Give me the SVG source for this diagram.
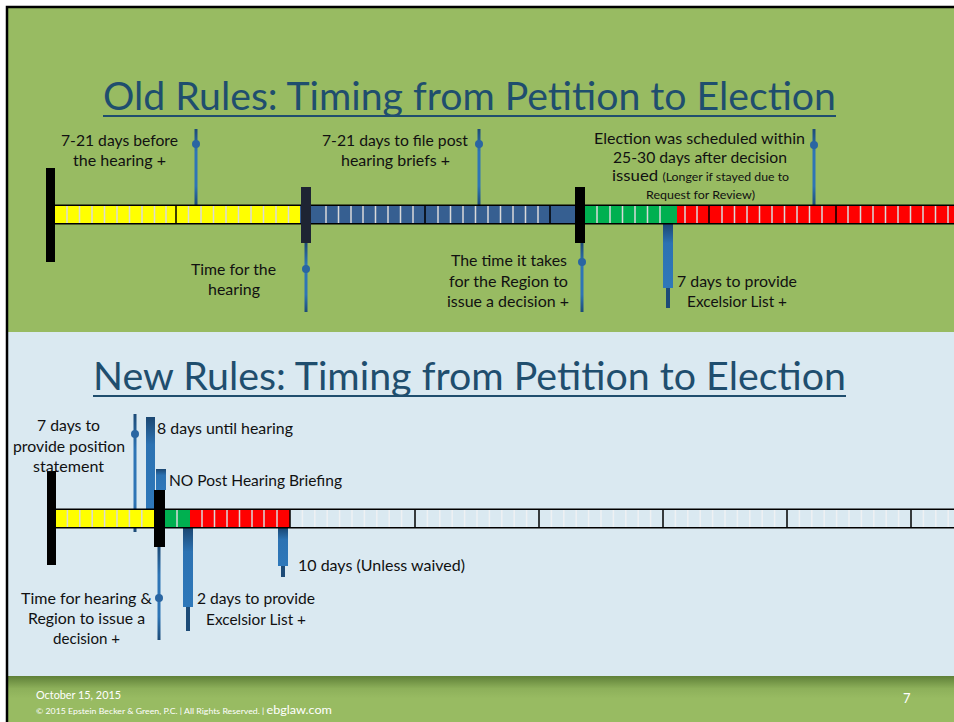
<svg xmlns="http://www.w3.org/2000/svg" width="954" height="722" viewBox="0 0 954 722">
  <defs>
    <style>
      text { font-family: Lato, "Open Sans", "Liberation Sans", sans-serif; }
      .title { font-size: 38px; fill: #1F4E6E; text-anchor: middle; }
      .lbl { font-size: 15px; fill: #111111; }
      .mid { text-anchor: middle; }
      .sm { font-size: 11px; }
      .foot { fill: #FFFFFF; }
      .tick { stroke: #D9D9D9; stroke-width: 1.5; fill: none; }
      .tickw { stroke: #EEF1F3; stroke-width: 1.5; fill: none; }
      .div { stroke: #000000; stroke-width: 1.5; fill: none; }
      .edge { stroke: #000000; stroke-width: 1.6; fill: none; }
      .dot { fill: #2A66A2; }
      .tail { fill: #1D4B77; }
    </style>
    <!-- shading along the callout lines: dark ends, lighter middle -->
    <linearGradient id="gLine" x1="0" y1="0" x2="0" y2="1">
      <stop offset="0" stop-color="#1D4B77"/>
      <stop offset="0.3" stop-color="#2E75B6"/>
      <stop offset="0.75" stop-color="#2E75B6"/>
      <stop offset="1" stop-color="#1D4B77"/>
    </linearGradient>
    <!-- thick pointer bars: dark at the top, lighter below -->
    <linearGradient id="gBar" x1="0" y1="0" x2="0" y2="1">
      <stop offset="0" stop-color="#1B4772"/>
      <stop offset="0.3" stop-color="#2C72B2"/>
      <stop offset="1" stop-color="#2E78BA"/>
    </linearGradient>
    <linearGradient id="gFoot" x1="0" y1="0" x2="0" y2="1">
      <stop offset="0" stop-color="#5F8038"/>
      <stop offset="0.25" stop-color="#8DB05A"/>
      <stop offset="0.45" stop-color="#98BB62"/>
      <stop offset="1" stop-color="#98BB62"/>
    </linearGradient>
  </defs>

  <!-- page -->
  <rect x="0" y="0" width="954" height="722" fill="#FFFFFF"/>
  <rect x="7" y="7" width="960" height="730" fill="#98BB62"/>
  <rect x="7" y="332" width="960" height="344" fill="#DAE9F1"/>
  <rect x="7" y="676" width="960" height="50" fill="url(#gFoot)"/>
  <rect x="7" y="7" width="960" height="730" fill="none" stroke="#000000" stroke-width="2.5"/>

  <!-- section titles -->
  <g id="title-old">
    <text class="title" x="469.5" y="110" textLength="733" lengthAdjust="spacingAndGlyphs">Old Rules: Timing from Petition to Election</text>
    <rect x="103" y="115" width="733" height="2" fill="#1F4E6E"/>
  </g>
  <g id="title-new">
    <text class="title" x="469.5" y="390" textLength="753" lengthAdjust="spacingAndGlyphs">New Rules: Timing from Petition to Election</text>
    <rect x="93" y="395" width="753" height="2" fill="#1F4E6E"/>
  </g>

  <!-- callout lines and pointers -->
  <g id="connectors">
    <!-- old rules -->
    <rect x="194.5" y="129" width="3" height="76" fill="url(#gLine)"/>
    <circle class="dot" cx="196" cy="144" r="4"/>
    <rect x="304.5" y="243" width="3" height="69" fill="url(#gLine)"/>
    <circle class="dot" cx="306" cy="269" r="4"/>
    <rect x="477.5" y="129" width="3" height="76" fill="url(#gLine)"/>
    <circle class="dot" cx="479" cy="144" r="4"/>
    <rect x="580.5" y="243" width="3" height="69" fill="url(#gLine)"/>
    <circle class="dot" cx="582" cy="262" r="4"/>
    <rect x="812.5" y="129" width="3" height="76" fill="url(#gLine)"/>
    <circle class="dot" cx="814" cy="145" r="4"/>
    <rect x="663" y="224" width="10" height="64" fill="url(#gBar)"/>
    <rect class="tail" x="666" y="288" width="4" height="20"/>
    <!-- new rules -->
    <rect x="133.5" y="414" width="3" height="118" fill="url(#gLine)"/>
    <circle class="dot" cx="135" cy="434" r="4"/>
    <rect x="146" y="417" width="9" height="92" fill="url(#gBar)"/>
    <rect x="156" y="469" width="10" height="21" fill="url(#gBar)"/>
    <rect x="157.5" y="547" width="3" height="93" fill="url(#gLine)"/>
    <circle class="dot" cx="159" cy="598" r="4"/>
    <rect x="183" y="528" width="10" height="79" fill="url(#gBar)"/>
    <rect class="tail" x="186" y="607" width="4" height="24"/>
    <rect x="278" y="528" width="10" height="38" fill="url(#gBar)"/>
    <rect class="tail" x="281" y="566" width="4" height="11"/>
  </g>

  <!-- old rules timeline -->
  <g id="timeline-old">
    <rect x="55" y="205" width="245" height="19" fill="#FFFF00"/>
    <rect x="300" y="205" width="276" height="19" fill="#365F91"/>
    <rect x="576" y="205" width="101" height="19" fill="#00B050"/>
    <rect x="677" y="205" width="280" height="19" fill="#FF0000"/>
    <path class="tick" d="M67,206V223M79.5,206V223M92,206V223M104.5,206V223M117,206V223M129.5,206V223M142,206V223M154.5,206V223M166,206V223
      M188.5,206V223M201,206V223M213.5,206V223M226,206V223M238.5,206V223M251,206V223M263.5,206V223M276,206V223M288.5,206V223
      M326,206V223M338.5,206V223M351,206V223M363,206V223M375.5,206V223M388,206V223M400.5,206V223M413,206V223
      M438,206V223M450.5,206V223M463,206V223M475.5,206V223M488,206V223M500.5,206V223M513,206V223M525.5,206V223M538,206V223
      M597,206V223M610,206V223M622.5,206V223M635,206V223M647.5,206V223M660,206V223
      M685,206V223M697,206V223M722,206V223M734.5,206V223M747,206V223M759.5,206V223M772,206V223M784.5,206V223M797,206V223M809.5,206V223M822,206V223
      M848,206V223M860.5,206V223M873,206V223M885.5,206V223M898,206V223M910.5,206V223M923,206V223M935.5,206V223M948,206V223"/>
    <path class="div" d="M176,205V224M425,205V224M550,205V224M709,205V224M836,205V224"/>
    <path class="edge" d="M55,205.2H954M55,223.8H954"/>
  </g>
  <g id="marker-old-petition"><rect x="46" y="168" width="9" height="94" fill="#000000"/></g>
  <g id="marker-old-hearing"><rect x="301" y="187" width="10" height="56" fill="#1E2433"/></g>
  <g id="marker-old-decision"><rect x="575" y="187" width="10" height="56" fill="#000000"/></g>

  <!-- new rules timeline -->
  <g id="timeline-new">
    <rect x="55" y="509" width="99" height="19" fill="#FFFF00"/>
    <rect x="154" y="509" width="36" height="19" fill="#00B050"/>
    <rect x="190" y="509" width="100" height="19" fill="#FF0000"/>
    <path class="tick" d="M67.4,510V527M79.8,510V527M92.2,510V527M104.6,510V527M117,510V527M129.4,510V527M141.8,510V527
      M177,510V527M202,510V527M214.5,510V527M227,510V527M239.5,510V527M252,510V527M264,510V527M277,510V527"/>
    <path class="tickw" d="M302.4,510V527M314.8,510V527M327.2,510V527M339.6,510V527M352,510V527M364.4,510V527M376.8,510V527M389.2,510V527M401.6,510V527
      M427.4,510V527M439.8,510V527M452.2,510V527M464.6,510V527M477,510V527M489.4,510V527M501.8,510V527M514.2,510V527M526.6,510V527
      M551.4,510V527M563.8,510V527M576.2,510V527M588.6,510V527M601,510V527M613.4,510V527M625.8,510V527M638.2,510V527M650.6,510V527
      M675.4,510V527M687.8,510V527M700.2,510V527M712.6,510V527M725,510V527M737.4,510V527M749.8,510V527M762.2,510V527M774.6,510V527
      M799.4,510V527M811.8,510V527M824.2,510V527M836.6,510V527M849,510V527M861.4,510V527M873.8,510V527M886.2,510V527M898.6,510V527
      M923.4,510V527M935.8,510V527M948.2,510V527"/>
    <path class="div" d="M290,509V528M415,509V528M539,509V528M663,509V528M787,509V528M911,509V528"/>
    <path class="edge" d="M55,509.2H954M55,527.8H954"/>
  </g>
  <g id="marker-new-petition"><rect x="47" y="471" width="9" height="94" fill="#000000"/></g>
  <g id="marker-new-decision"><rect x="154" y="490" width="11" height="57" fill="#000000"/></g>

  <!-- old rules labels -->
  <g id="label-before-hearing">
    <text class="lbl mid" x="119.5" y="146" textLength="117" lengthAdjust="spacingAndGlyphs">7-21 days before</text>
    <text class="lbl mid" x="119.5" y="166" textLength="93" lengthAdjust="spacingAndGlyphs">the hearing +</text>
  </g>
  <g id="label-hearing">
    <text class="lbl mid" x="233.5" y="275" textLength="85" lengthAdjust="spacingAndGlyphs">Time for the</text>
    <text class="lbl mid" x="234" y="295" textLength="52" lengthAdjust="spacingAndGlyphs">hearing</text>
  </g>
  <g id="label-briefs">
    <text class="lbl mid" x="395" y="146" textLength="146" lengthAdjust="spacingAndGlyphs">7-21 days to file post</text>
    <text class="lbl mid" x="395.5" y="166" textLength="109" lengthAdjust="spacingAndGlyphs">hearing briefs +</text>
  </g>
  <g id="label-region-decision">
    <text class="lbl mid" x="509" y="266" textLength="116" lengthAdjust="spacingAndGlyphs">The time it takes</text>
    <text class="lbl mid" x="508.5" y="287" textLength="119" lengthAdjust="spacingAndGlyphs">for the Region to</text>
    <text class="lbl mid" x="508" y="307" textLength="122" lengthAdjust="spacingAndGlyphs">issue a decision +</text>
  </g>
  <g id="label-election">
    <text class="lbl mid" x="699.5" y="144" textLength="211" lengthAdjust="spacingAndGlyphs">Election was scheduled within</text>
    <text class="lbl mid" x="700" y="163" textLength="174" lengthAdjust="spacingAndGlyphs">25-30 days after decision</text>
    <text class="lbl mid" x="700.5" y="181" textLength="177" lengthAdjust="spacingAndGlyphs">issued <tspan class="sm">(Longer if stayed due to</tspan></text>
    <text class="lbl mid sm" x="700.5" y="199" textLength="109" lengthAdjust="spacingAndGlyphs">Request for Review)</text>
  </g>
  <g id="label-excelsior-old">
    <text class="lbl mid" x="737" y="287" textLength="120" lengthAdjust="spacingAndGlyphs">7 days to provide</text>
    <text class="lbl mid" x="737" y="307" textLength="100" lengthAdjust="spacingAndGlyphs">Excelsior List +</text>
  </g>

  <!-- new rules labels -->
  <g id="label-position">
    <text class="lbl mid" x="68.5" y="431" textLength="63" lengthAdjust="spacingAndGlyphs">7 days to</text>
    <text class="lbl mid" x="69" y="452" textLength="112" lengthAdjust="spacingAndGlyphs">provide position</text>
    <text class="lbl mid" x="68.5" y="472" textLength="71" lengthAdjust="spacingAndGlyphs">statement</text>
  </g>
  <g id="label-until-hearing">
    <text class="lbl" x="157" y="434" textLength="136" lengthAdjust="spacingAndGlyphs">8 days until hearing</text>
  </g>
  <g id="label-no-briefing">
    <text class="lbl" x="169" y="486" textLength="173" lengthAdjust="spacingAndGlyphs">NO Post Hearing Briefing</text>
  </g>
  <g id="label-hearing-decision">
    <text class="lbl mid" x="86.5" y="604" textLength="131" lengthAdjust="spacingAndGlyphs">Time for hearing &amp;</text>
    <text class="lbl mid" x="86.5" y="624" textLength="117" lengthAdjust="spacingAndGlyphs">Region to issue a</text>
    <text class="lbl mid" x="86.5" y="644" textLength="67" lengthAdjust="spacingAndGlyphs">decision +</text>
  </g>
  <g id="label-excelsior-new">
    <text class="lbl mid" x="256" y="604" textLength="118" lengthAdjust="spacingAndGlyphs">2 days to provide</text>
    <text class="lbl mid" x="256" y="625" textLength="100" lengthAdjust="spacingAndGlyphs">Excelsior List +</text>
  </g>
  <g id="label-ten-days">
    <text class="lbl" x="298" y="571" textLength="167" lengthAdjust="spacingAndGlyphs">10 days (Unless waived)</text>
  </g>

  <!-- footer -->
  <g id="footer">
    <text class="foot" x="36" y="699" font-size="11" textLength="85" lengthAdjust="spacingAndGlyphs">October 15, 2015</text>
    <text class="foot" x="36" y="714" font-size="8" textLength="296" lengthAdjust="spacingAndGlyphs">© 2015 Epstein Becker &amp; Green, P.C.  |  All Rights Reserved.  |  <tspan font-size="11.5">ebglaw.com</tspan></text>
    <text class="foot" x="903" y="703" font-size="13">7</text>
  </g>
</svg>
